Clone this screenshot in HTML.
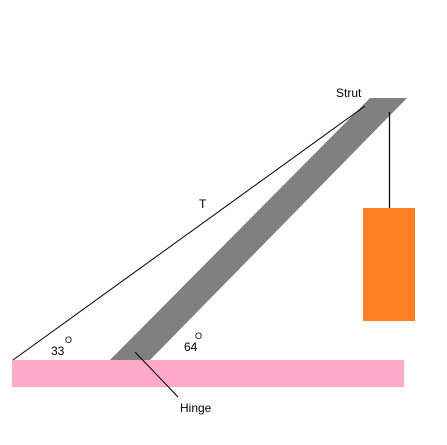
<!DOCTYPE html>
<html><head><meta charset="utf-8"><style>
html,body{margin:0;padding:0;background:#fff;}
svg{display:block;font-family:"Liberation Sans",sans-serif;}
</style></head><body>
<svg width="447" height="445" viewBox="0 0 447 445">
<rect x="12" y="360" width="392" height="27" fill="#ffaac8"/>
<polygon points="110,360 150,360 407,98 370,98" fill="#808080"/>
<line x1="13" y1="360" x2="365" y2="106" stroke="#000" stroke-width="1"/>
<line x1="389.5" y1="112" x2="389.5" y2="209" stroke="#000" stroke-width="1.2"/>
<rect x="363" y="208" width="52" height="113" fill="#ff7f27"/>
<line x1="135" y1="352" x2="178" y2="397" stroke="#000" stroke-width="1"/>
<text x="336" y="97" font-size="12">Strut</text>
<text x="199" y="208" font-size="12">T</text>
<text x="51" y="355" font-size="12">33</text>
<text x="65" y="343" font-size="9">O</text>
<text x="184" y="351" font-size="12">64</text>
<text x="195" y="339" font-size="9">O</text>
<text x="180" y="412" font-size="12">Hinge</text>
</svg>
</body></html>
